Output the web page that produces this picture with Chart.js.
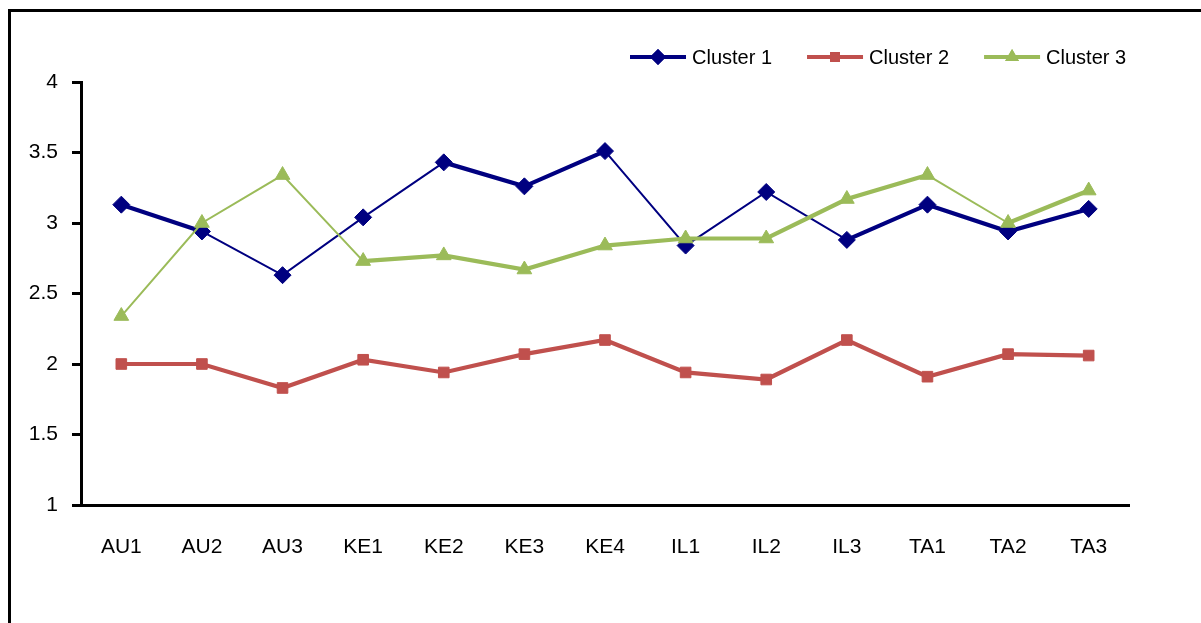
<!DOCTYPE html>
<html>
<head>
<meta charset="utf-8">
<script src="https://cdn.jsdelivr.net/npm/chart.js@4.4.1/dist/chart.umd.min.js"></script>
<style>
  html, body { margin: 0; padding: 0; background: #fff; overflow: hidden; }
  #wrap { position: relative; width: 1201px; height: 623px; overflow: hidden; }
  #frame { position: absolute; left: 8px; top: 9px; width: 1400px; height: 800px; border: 3px solid #000; box-sizing: border-box; pointer-events: none; }
  canvas { position: absolute; left: 0; top: 0; }
</style>
</head>
<body>
<div id="wrap">
  <canvas id="chart" width="1201" height="623"></canvas>
  <div id="frame"></div>
</div>
<script>
// Sites along the x axis
const categories = ['AU1', 'AU2', 'AU3', 'KE1', 'KE2', 'KE3', 'KE4', 'IL1', 'IL2', 'IL3', 'TA1', 'TA2', 'TA3'];

// Mean score per cluster at each site
const cluster1 = [3.13, 2.94, 2.63, 3.04, 3.43, 3.26, 3.51, 2.84, 3.22, 2.88, 3.13, 2.94, 3.10];
const cluster2 = [2.00, 2.00, 1.83, 2.03, 1.94, 2.07, 2.17, 1.94, 1.89, 2.17, 1.91, 2.07, 2.06];
const cluster3 = [2.34, 3.00, 3.34, 2.73, 2.77, 2.67, 2.84, 2.89, 2.89, 3.17, 3.34, 3.00, 3.23];

// Value axis ticks
const yTicks = [1, 1.5, 2, 2.5, 3, 3.5, 4];

// Line weight of each segment (heavy / light strokes)
const HEAVY = 4.2, LIGHT = 2;
const weights1 = [HEAVY, LIGHT, LIGHT, LIGHT, HEAVY, HEAVY, LIGHT, LIGHT, LIGHT, HEAVY, HEAVY, HEAVY];
const weights2 = [HEAVY, HEAVY, HEAVY, HEAVY, HEAVY, HEAVY, HEAVY, HEAVY, HEAVY, HEAVY, HEAVY, HEAVY];
const weights3 = [LIGHT, LIGHT, LIGHT, HEAVY, HEAVY, HEAVY, HEAVY, HEAVY, HEAVY, HEAVY, LIGHT, HEAVY];

const FONT = 'Liberation Sans, Arial, sans-serif';

function series(label, data, color, style, radius, weights, order) {
  return {
    label, data, order,
    borderColor: color,
    backgroundColor: color,
    pointBackgroundColor: color,
    pointBorderColor: color,
    pointBorderWidth: 1,
    pointStyle: style,
    pointRadius: radius,
    pointHoverRadius: radius,
    borderWidth: HEAVY,
    tension: 0,
    segment: { borderWidth: ctx => weights[ctx.p0DataIndex] }
  };
}

// Legend drawn as line + marker + label, like an office chart legend
const lineLegend = {
  id: 'lineLegend',
  afterDraw(chart) {
    const ctx = chart.ctx;
    const y = 57;
    let x = 630;
    ctx.save();
    ctx.font = '20px ' + FONT;
    ctx.textBaseline = 'middle';
    chart.data.datasets.forEach(ds => {
      ctx.strokeStyle = ds.borderColor;
      ctx.lineWidth = 4;
      ctx.beginPath();
      ctx.moveTo(x, y);
      ctx.lineTo(x + 56, y);
      ctx.stroke();
      ctx.fillStyle = ds.borderColor;
      Chart.helpers.drawPoint(ctx, { pointStyle: ds.pointStyle, rotation: 0, borderWidth: 0, radius: ds.pointRadius - 0.5 }, x + 28, y);
      ctx.fill();
      ctx.fillStyle = '#000';
      ctx.fillText(ds.label, x + 62, y + 1);
      x += 62 + ctx.measureText(ds.label).width + 35;
    });
    ctx.restore();
  }
};

new Chart(document.getElementById('chart'), {
  type: 'line',
  data: {
    labels: categories,
    datasets: [
      series('Cluster 1', cluster1, '#000080', 'rectRot', 8.5, weights1, 1),
      series('Cluster 2', cluster2, '#C0504D', 'rect', 7.5, weights2, 2),
      series('Cluster 3', cluster3, '#9BBB59', 'triangle', 8.5, weights3, 0)
    ]
  },
  options: {
    responsive: false,
    animation: false,
    layout: { padding: { left: 0, right: 72, top: 82, bottom: 0 } },
    plugins: { legend: { display: false }, tooltip: { enabled: false } },
    scales: {
      x: {
        offset: true,
        grid: { display: false, drawTicks: false },
        border: { display: true, color: '#000', width: 3 },
        ticks: { color: '#000', font: { family: FONT, size: 21 }, padding: 30, maxRotation: 0, autoSkip: false },
        afterFit(scale) { scale.height = 118; }
      },
      y: {
        min: 1, max: 4,
        afterBuildTicks(scale) { scale.ticks = yTicks.map(v => ({ value: v })); },
        grid: { display: true, drawOnChartArea: false, drawTicks: true, tickLength: 9, color: '#000', lineWidth: 3 },
        border: { display: true, color: '#000', width: 3 },
        ticks: { color: '#000', font: { family: FONT, size: 21 }, padding: 14, callback: v => String(v) },
        afterFit(scale) { scale.width = 81; }
      }
    }
  },
  plugins: [lineLegend]
});
</script>
</body>
</html>
